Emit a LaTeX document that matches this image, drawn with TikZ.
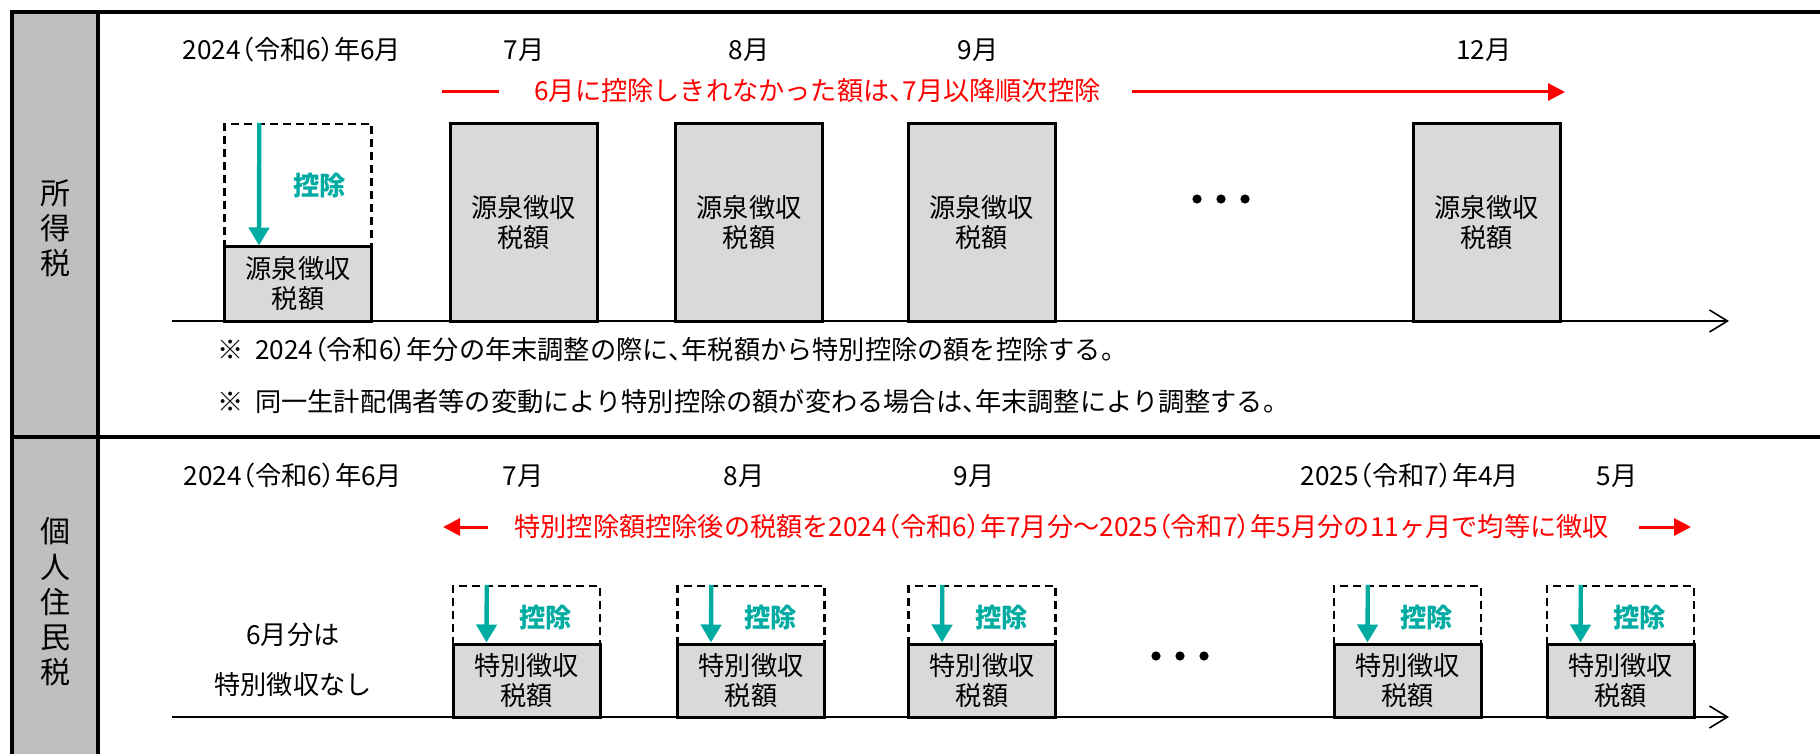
\documentclass[tikz,border=0pt]{standalone}
\usepackage{fontspec}
\setmainfont{Noto Sans CJK JP}
\newfontfamily\paltfont[RawFeature=+palt]{Noto Sans CJK JP}
\usetikzlibrary{arrows.meta}
\definecolor{boxgray}{HTML}{D9D9D9}
\definecolor{colgray}{HTML}{BFBFBF}
\definecolor{tealc}{RGB}{0,172,162}
\definecolor{redc}{RGB}{255,0,0}
\newcommand\fsmain{\fontsize{13.1pt}{15pt}\selectfont}
\newcommand\fsside{\fontsize{15pt}{17.6pt}\selectfont}
\newcommand\LP{{\paltfont （}}
\newcommand\RP{{\paltfont ）}}
\newcommand\TC{{\paltfont 、}}
\begin{document}
\begin{tikzpicture}[x=0.5pt,y=-0.5pt,
  frame/.style={line width=1.6pt,black},
  lbl/.style={inner sep=0pt,font=\fsmain,text=black},
  redlbl/.style={inner sep=0pt,font=\fsmain,text=redc,anchor=west},
  side/.style={inner sep=0pt,font=\fsside,align=center},
  gbox/.style={draw,line width=1.5pt,fill=boxgray,inner sep=0pt,minimum width=73.5pt,align=center,font=\fsmain},
  dbox/.style={draw,line width=1.2pt,dash pattern=on 4pt off 2.5pt,inner sep=0pt,minimum width=73.5pt},
  kj/.style={inner sep=0pt,font=\fsmain\bfseries,text=tealc},
  tarrow/.style={line width=2.2pt,tealc,-{Triangle[width=10pt,length=9pt]}},
  rarrow/.style={line width=1.5pt,redc,-{Triangle[width=8.5pt,length=8.5pt]}},
  axis/.style={line width=0.8pt,black,-{Straight Barb[length=9pt,width=11pt,line width=0.8pt]}},
  dot/.style={circle,fill=black,inner sep=0pt,minimum size=4.6pt},
  note/.style={inner sep=0pt,font=\fsmain,anchor=west}
]
\useasboundingbox (0,0) rectangle (1820,754);
% frame
\fill[colgray] (12,12) rectangle (98,760);
\draw[frame] (12,760) -- (12,12) -- (1822,12);
\draw[frame] (98,12) -- (98,760);
\draw[frame] (12,437) -- (1822,437);
\node[side] (s1) at (55,228) {所\\得\\税};
\node[side] (s2) at (55,602) {個\\人\\住\\民\\税};

% ===== upper panel =====
\node[lbl] (u6) at (292,50) {2024\LP 令和6\RP 年6月};
\node[lbl] (u7) at (524,50) {7月};
\node[lbl] (u8) at (749,50) {8月};
\node[lbl] (u9) at (978,50) {9月};
\node[lbl] (u12) at (1484,50) {12月};

\coordinate (ur1) at (442,92);
\coordinate (ur2) at (499,92);
\draw[line width=1.5pt,redc] (ur1) -- (ur2);
\node[redlbl] (ut) at (534,91) {6月に控除しきれなかった額は\TC 7月以降順次控除};
\coordinate (ur3) at (1132,92);
\coordinate (ur4) at (1565,92);
\draw[rarrow] (ur3) -- (ur4);

\coordinate (ua1) at (172,321);
\coordinate (ua2) at (1729,321);
\draw[axis] (ua1) -- (ua2);

\node[dbox,minimum height=61.5pt] (ud6) at (298,185.5) {};
\node[gbox,minimum height=37pt] (ub6) at (298,284) {源泉徴収\\税額};
\draw[tarrow] ([xshift=18pt]ud6.north west) -- ([xshift=18pt]ub6.north west);
\node[kj] (uk6) at ([xshift=48pt]ud6.west) {控除};

\node[gbox,minimum height=98.5pt] (ub7) at (523.5,222.5) {源泉徴収\\税額};
\node[gbox,minimum height=98.5pt] (ub8) at (749,222.5) {源泉徴収\\税額};
\node[gbox,minimum height=98.5pt] (ub9) at (981.5,222.5) {源泉徴収\\税額};
\node[gbox,minimum height=98.5pt] (ub12) at (1486.5,222.5) {源泉徴収\\税額};

\node[dot] (ud1) at (1197,199) {};
\node[dot] (ud2) at (1221,199) {};
\node[dot] (ud3) at (1245,199) {};

\node[note] (n1) at (217,350) {※\hspace{0.45em}2024\LP 令和6\RP 年分の年末調整の際に\TC 年税額から特別控除の額を控除する。};
\node[note] (n2) at (217,402) {※\hspace{0.45em}同一生計配偶者等の変動により特別控除の額が変わる場合は\TC 年末調整により調整する。};

% ===== lower panel =====
\node[lbl] (l6) at (293,476) {2024\LP 令和6\RP 年6月};
\node[lbl] (l7) at (523,476) {7月};
\node[lbl] (l8) at (744,476) {8月};
\node[lbl] (l9) at (974,476) {9月};
\node[lbl] (l4) at (1410,476) {2025\LP 令和7\RP 年4月};
\node[lbl] (l5) at (1617,476) {5月};

\coordinate (lr1) at (488,527);
\coordinate (lr2) at (443,527);
\draw[rarrow] (lr1) -- (lr2);
\node[redlbl] (lt) at (514,527) {特別控除額控除後の税額を2024\LP 令和6\RP 年7月分～2025\LP 令和7\RP 年5月分の11ヶ月で均等に徴収};
\coordinate (lr3) at (1639,527);
\coordinate (lr4) at (1691,527);
\draw[rarrow] (lr3) -- (lr4);

\coordinate (la1) at (172,717);
\coordinate (la2) at (1729,717);
\draw[axis] (la1) -- (la2);

\node[lbl] (ln1) at (293,635) {6月分は};
\node[lbl] (ln2) at (293,685) {特別徴収なし};

\foreach \nm/\cx in {7/526.5,8/751,9/982,4/1407.5,5/1620.5}{
  \node[dbox,minimum height=29pt] (ld\nm) at (\cx,615) {};
  \node[gbox,minimum height=36.5pt] (lb\nm) at (\cx,680.5) {特別徴収\\税額};
  \draw[tarrow] ([xshift=17.5pt]ld\nm.north west) -- ([xshift=17.5pt]lb\nm.north west);
  \node[kj] (lk\nm) at ([xshift=47pt,yshift=-1.5pt]ld\nm.west) {控除};
}

\node[dot] (ld1x) at (1156,656) {};
\node[dot] (ld2x) at (1180,656) {};
\node[dot] (ld3x) at (1204,656) {};
\end{tikzpicture}
\end{document}
